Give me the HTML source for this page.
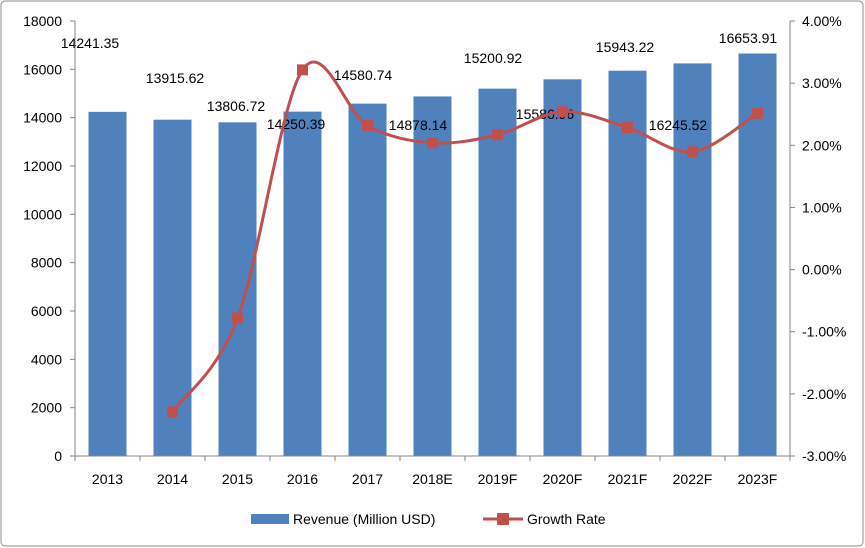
<!DOCTYPE html>
<html><head><meta charset="utf-8"><style>
body{margin:0;background:#fff;}
svg{display:block;font-family:"Liberation Sans",Arial,sans-serif;}
</style></head><body>
<svg id="s" width="865" height="548" viewBox="0 0 865 548">
<rect x="1" y="1" width="862" height="545" rx="4" fill="#fff" stroke="#8c8c8c" stroke-width="1"/>
<g id="g"></g>
</svg>
<script>
const NS="http://www.w3.org/2000/svg",g=document.getElementById('g');
function el(t,a,txt){const e=document.createElementNS(NS,t);for(const k in a)e.setAttribute(k,a[k]);if(txt!==undefined)e.textContent=txt;g.appendChild(e);return e;}
const L=75,R=790,T=21,B=456,H=B-T;
const cats=["2013","2014","2015","2016","2017","2018E","2019F","2020F","2021F","2022F","2023F"];
const vals=[14241.35,13915.62,13806.72,14250.39,14580.74,14878.14,15200.92,15586.96,15943.22,16245.52,16653.91];
const lab=[[90,43],[175,78],[236,106],[296,124],[363,75],[418,125],[493,58],[545,114],[625,47],[678,125],[748,38]];
for(let i=0;i<=9;i++){const y=B-i*H/9;el('line',{x1:L-5,x2:L,y1:y,y2:y,stroke:'#868686'});el('text',{x:L-13,y:y+5,'text-anchor':'end','font-size':14,fill:'#000'},String(i*2000));}
for(let i=0;i<=7;i++){const y=B-i*H/7;el('line',{x1:R,x2:R+5,y1:y,y2:y,stroke:'#868686'});el('text',{x:R+12,y:y+5,'font-size':14,fill:'#000'},((i-3).toFixed(2))+'%');}
const w=(R-L)/11;
for(let i=0;i<=11;i++){el('line',{x1:L+i*w,x2:L+i*w,y1:B,y2:B+5,stroke:'#868686'});}
vals.forEach((v,i)=>{const cx=L+w*(i+0.5),h=v/18000*H;el('rect',{x:cx-19,y:B-h,width:38,height:h,fill:'#4f81bd'});
el('text',{x:cx,y:B+28,'text-anchor':'middle','font-size':14},cats[i]);
el('text',{x:lab[i][0],y:lab[i][1]+5,'text-anchor':'middle','font-size':14},v.toFixed(2));});
el('line',{x1:L,x2:L,y1:T,y2:B,stroke:'#868686'});el('line',{x1:R,x2:R,y1:T,y2:B,stroke:'#868686'});el('line',{x1:L,x2:R,y1:B,y2:B,stroke:'#868686'});
const pts=[];for(let i=1;i<11;i++){const gr=(vals[i]/vals[i-1]-1)*100;pts.push([L+w*(i+0.5),B-(gr+3)*H/7]);}
let d=`M${pts[0][0]},${pts[0][1]}`;
for(let i=0;i<pts.length-1;i++){const p0=pts[Math.max(0,i-1)],p1=pts[i],p2=pts[i+1],p3=pts[Math.min(pts.length-1,i+2)];
const c1=[p1[0]+(p2[0]-p0[0])/6,p1[1]+(p2[1]-p0[1])/6],c2=[p2[0]-(p3[0]-p1[0])/6,p2[1]-(p3[1]-p1[1])/6];
d+=` C${c1[0]},${c1[1]} ${c2[0]},${c2[1]} ${p2[0]},${p2[1]}`;}
el('path',{d:d,fill:'none',stroke:'#c0504d','stroke-width':3});
pts.forEach(p=>el('rect',{x:p[0]-5.5,y:p[1]-5.5,width:11,height:11,fill:'#c0504d'}));
el('rect',{x:251,y:514,width:38,height:10,fill:'#4f81bd'});
el('text',{x:293,y:524,'font-size':14},'Revenue (Million USD)');
el('line',{x1:483,x2:523,y1:519,y2:519,stroke:'#c0504d','stroke-width':3});
el('rect',{x:497,y:513,width:12,height:12,fill:'#c0504d'});
el('text',{x:527,y:524,'font-size':14},'Growth Rate');
</script>
</body></html>
